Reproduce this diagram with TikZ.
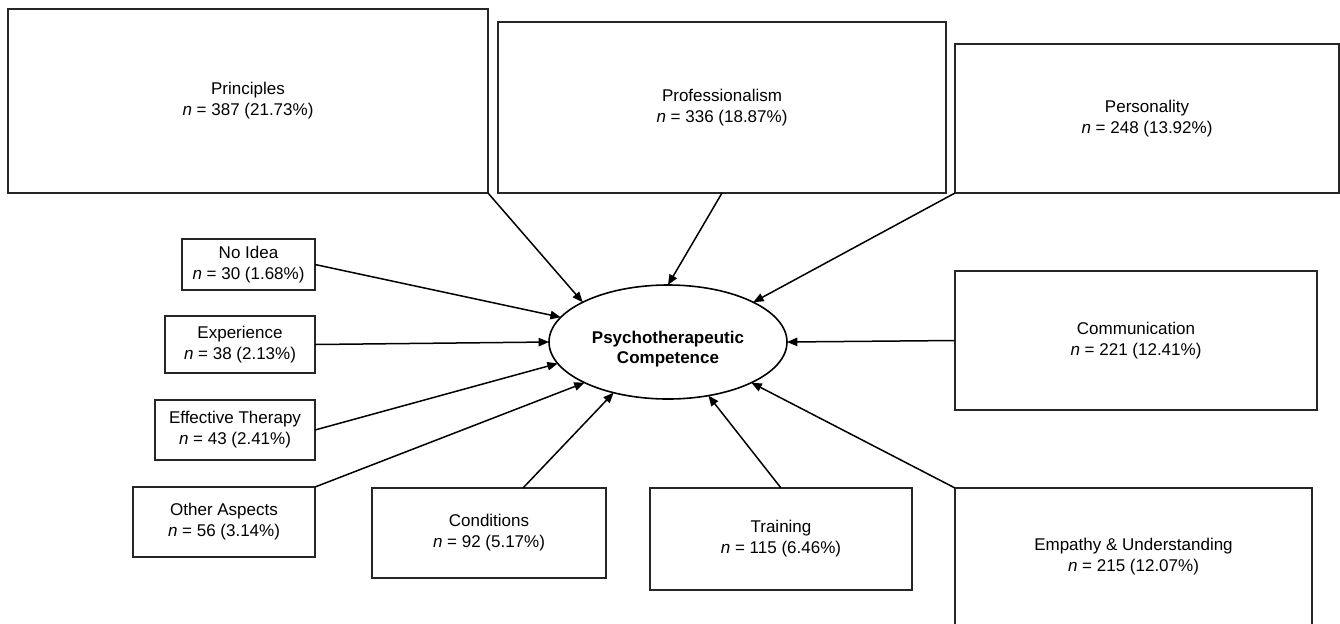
\documentclass[tikz,border=0pt]{standalone}
\usepackage{fontspec}
\setmainfont{Liberation Sans}
\usetikzlibrary{arrows.meta,shapes.geometric}
\begin{document}
\begin{tikzpicture}[x=0.5pt,y=-0.5pt,
  box/.style={draw=black!85,line width=0.8pt,inner sep=0pt,outer sep=0pt,align=center,
    font=\fontsize{8.5}{10.5}\selectfont},
  arr/.style={-{Triangle[length=5.2pt,width=4.2pt]},line width=0.75pt,draw=black}]
\useasboundingbox (0,0) rectangle (1340,623);
\clip (0,0) rectangle (1340,623);
\fill[white] (0,0) rectangle (1340,623);

\node[box,minimum width=240pt,minimum height=92pt] (pri) at (248,101) {Principles\\\textit{n} = 387 (21.73\%)};
\node[box,minimum width=224pt,minimum height=85.5pt] (pro) at (722,107.5) {Professionalism\\\textit{n} = 336 (18.87\%)};
\node[box,minimum width=192pt,minimum height=74.5pt] (per) at (1147,118.5) {Personality\\\textit{n} = 248 (13.92\%)};
\node[box,minimum width=66.5pt,minimum height=25.5pt] (noi) at (248.5,264.5) {No Idea\\\textit{n} = 30 (1.68\%)};
\node[box,minimum width=75pt,minimum height=28.5pt] (exp) at (240,344.5) {Experience\\\textit{n} = 38 (2.13\%)};
\node[box,minimum width=80pt,minimum height=30pt] (eff) at (235,430) {Effective Therapy\\\textit{n} = 43 (2.41\%)};
\node[box,minimum width=91pt,minimum height=35pt] (oth) at (224,522) {Other Aspects\\\textit{n} = 56 (3.14\%)};
\node[box,minimum width=117pt,minimum height=45pt] (con) at (489,533) {Conditions\\\textit{n} = 92 (5.17\%)};
\node[box,minimum width=131pt,minimum height=51pt] (tra) at (781,539) {Training\\\textit{n} = 115 (6.46\%)};
\node[box,minimum width=181pt,minimum height=69.5pt] (com) at (1136,340.5) {Communication\\\textit{n} = 221 (12.41\%)};
\node[box,minimum width=178.5pt,minimum height=69pt] (emp) at (1133.5,557) {Empathy \& Understanding\\\textit{n} = 215 (12.07\%)};

\node[ellipse,draw=black,line width=0.8pt,inner sep=0pt,outer sep=0pt,
  minimum width=119pt,minimum height=57pt,
  label={[font=\fontsize{8.5}{10}\selectfont\bfseries,align=center,yshift=-3.5pt]center:Psychotherapeutic\\Competence}] (pc) at (668,342) {};

\draw[arr] (pri.south east) -- (pc.155);
\draw[arr] (pro.south) -- (pc.north);
\draw[arr] (per.south west) -- (pc.25);
\draw[arr] (com.west) -- (pc.east);
\draw[arr] (emp.north west) -- (pc.334);
\draw[arr] (tra.north) -- (pc.307);
\draw[arr] ([xshift=75.5pt]con.north west) -- (pc.223);
\draw[arr] (oth.north east) -- (pc.206);
\draw[arr] (eff.east) -- (pc.191);
\draw[arr] (exp.east) -- (pc.west);
\draw[arr] (noi.east) -- (pc.167);
\end{tikzpicture}
\end{document}
